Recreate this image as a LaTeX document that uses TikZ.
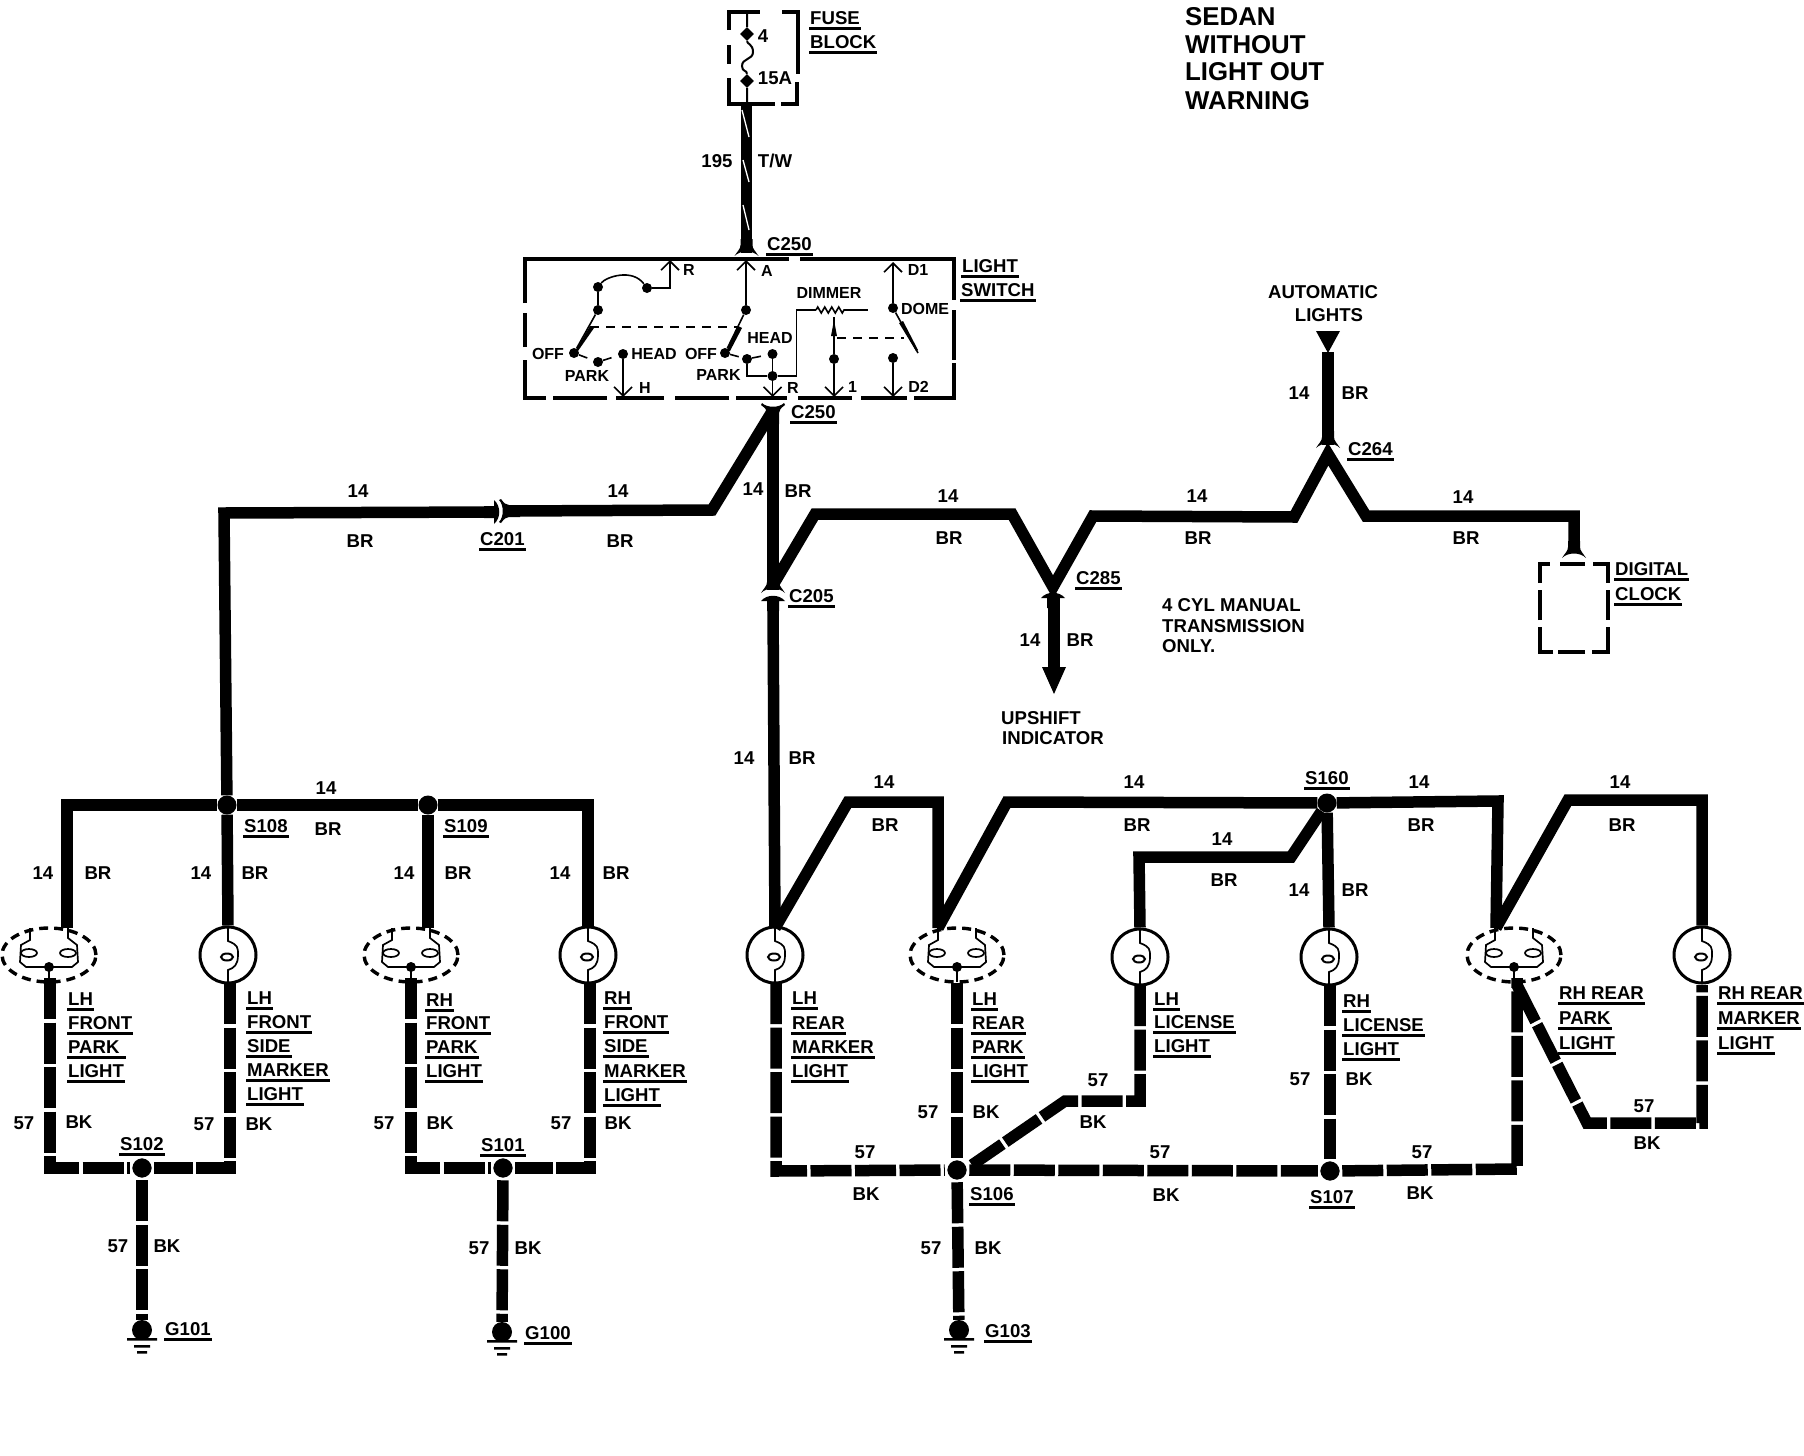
\documentclass[tikz,border=0pt]{standalone}
\usepackage{fontspec}
\setmainfont{Liberation Sans}[BoldFont={Liberation Sans Bold}]
\usetikzlibrary{arrows.meta,shapes.geometric,decorations.pathmorphing}
\newcommand\ulb[1]{\setbox0=\hbox{#1}\rlap{\hspace{-1pt}\rule[-5pt]{\dimexpr\wd0+2pt}{2.4pt}}\box0}
\newcommand\TT[4]{\node[lab] (#1) at (#2,#3) {#4};}
\newcommand\TU[4]{\node[lab,anchor=west] (#1) at (#2,#3) {\ulb{#4}};}
\newcommand\TL[4]{\node[lab,anchor=west] (#1) at (#2,#3) {#4};}
\newcommand\TS[4]{\node[sw] (#1) at (#2,#3) {#4};}
\tikzset{
 lab/.style={inner sep=0pt,yshift=-1pt,font=\fontsize{18.6}{18.6}\selectfont\bfseries,text height=13pt,text depth=0pt},
 sw/.style={inner sep=0pt,font=\fontsize{16}{16}\selectfont\bfseries,text height=11pt,text depth=0pt},
 head/.style={inner sep=0pt,anchor=west,font=\fontsize{25.8}{25.8}\selectfont\bfseries,text height=18pt,text depth=0pt},
 wire/.style={line width=11.5pt,line join=miter},
 gwire/.style={line width=11.5pt,line join=miter,dash pattern=on 41pt off 3.5pt},
 jun/.style={circle,fill=black,inner sep=0pt,minimum size=19pt},
 gjun/.style={circle,fill=black,draw=white,line width=2.5pt,inner sep=0pt,minimum size=22pt},
 gdot/.style={circle,fill=black,inner sep=0pt,minimum size=20pt},
 swdot/.style={circle,fill=black,inner sep=0pt,minimum size=10pt},
 bulb/.style={circle,draw,line width=3pt,inner sep=0pt,minimum size=56pt},
 parklamp/.style={ellipse,draw,line width=3.4pt,dash pattern=on 9pt off 6pt,inner sep=0pt,minimum width=94pt,minimum height=54pt},
 box/.style={line width=4pt},
 thin/.style={line width=1.6pt},
 swa/.style={line width=1.6pt,-{Straight Barb[length=9pt,width=18pt,line width=1.6pt]}},
 thickarrow/.style={line width=3.5pt},
 dsh/.style={line width=1.6pt,dash pattern=on 9pt off 7pt},
 bulbin/.pic={
  \draw[line width=1.7pt] (0,-27) -- (0,-14) .. controls (10,-10) and (10,-8) .. (10,0) .. controls (10,10) and (6,13) .. (0,15) -- (0,27);
  \draw[line width=2pt,fill=white] (-1,2) ellipse (6pt and 3.5pt);
 },
 parkin/.pic={
  \draw[line width=1.7pt] (19,-27) -- (19,-17) -- (28,-10) -- (29,7) -- (23,12) -- (-23,12) -- (-29,7) -- (-28,-10) -- (-19,-15) -- (-19,-27);
  \draw[line width=1.7pt] (-20,-2) ellipse (8pt and 4pt) (19,-2) ellipse (8pt and 4pt);
  \fill (0,12) circle (5pt);
  \draw[line width=1.7pt] (0,12) -- (0,27);
 },
 conD/.pic={\fill (-6,-14) -- (-6,-8) .. controls (-6,-4) and (-9,-2) .. (-12,3) .. controls (-6,-3) and (6,-3) .. (12,3) .. controls (9,-2) and (6,-4) .. (6,-8) -- (6,-14) -- cycle;},
 conU/.pic={\fill (-12,4) .. controls (-6,-3) and (6,-3) .. (12,4) -- (6,4) -- (6,14) -- (-6,14) -- (-6,4) -- cycle;},
 conY/.pic={\fill (-11,-7) .. controls (-6,-2) and (6,-2) .. (11,-7) -- (12,-5) .. controls (8,-2) and (6,0) .. (6,3) -- (6,14) -- (-6,14) -- (-6,3) .. controls (-6,0) and (-8,-2) .. (-12,-5) -- cycle;},
 gnd/.pic={\fill (-15,8) rectangle (15,10.5) (-8,15) rectangle (8,17.5) (-5,21) rectangle (5,23.5);},
}
\begin{document}
\begin{tikzpicture}[x=1pt,y=-1pt,line cap=butt]
\useasboundingbox (0,0) rectangle (1804,1456);
\fill[white] (0,0) rectangle (1804,1456);

% ---------- heading
\node[head] (h1) at (1185,16) {SEDAN};
\node[head] (h2) at (1185,44) {WITHOUT};
\node[head] (h3) at (1185,71) {LIGHT OUT};
\node[head] (h4) at (1185,100) {WARNING};

% ---------- fuse block
\draw[box] (729,30) -- (729,12) -- (760,12) (782,12) -- (798,12) -- (798,74) (729,45) -- (729,64) (729,78) -- (729,104) -- (775,104) (781,104) -- (797,104) -- (797,82);
\node[diamond,fill=black,inner sep=0pt,minimum size=14pt] (f4) at (747,34) {};
\node[diamond,fill=black,inner sep=0pt,minimum size=14pt] (f15) at (747,81) {};
\draw[line width=2pt] (747,14) -- (f4) (f4) .. controls (747,44) and (753,44) .. (753,52) .. controls (753,60) and (742,58) .. (742,66) .. controls (742,72) and (747,70) .. (f15) (f15) -- (747,104);
\TT{t4}{763}{35}{4}
\TT{t15}{775}{77}{15A}
\TU{tfuse}{810}{17}{FUSE}
\TU{tblock}{810}{41}{BLOCK}
\coordinate (ftop) at (746.5,104);
\coordinate (c250a) at (746.5,253);
\draw[wire] (ftop) -- (c250a);
\pic at (c250a) {conD};
\draw[white,line width=1.3pt] (742,110) -- (749,137) (743,160) -- (749,182) (743,205) -- (749,230);
\TT{t195}{717}{160}{195}
\TT{ttw}{775}{160}{T/W}

% ---------- light switch box
\draw[box] (525,303) -- (525,259) -- (789,259) (800,259) -- (954,259) -- (954,300) (954,310) -- (954,360) (954,363) -- (954,398) -- (914,398) (907,398) -- (861,398) (852,398) -- (798,398) (787,398) -- (736,398) (729,398) -- (675,398) (664,398) -- (616,398) (607,398) -- (553,398) (546,398) -- (525,398) -- (525,360) (525,347) -- (525,313);
\TU{tc250a}{767}{243}{C250}
\TU{tc250b}{791}{411}{C250}
\TU{tlight}{962}{265}{LIGHT}
\TU{tswitch}{961}{289}{SWITCH}
% left ganged switch
\node[swdot] (a1) at (598,287) {};
\node[swdot] (a2) at (598,310) {};
\node[swdot] (a3) at (574,353) {};
\node[swdot] (a4) at (598,362) {};
\node[swdot] (a5) at (623,354) {};
\node[swdot] (a6) at (647,288) {};
\coordinate (a7) at (670,288);
\coordinate (a8) at (670,260);
\coordinate (a9) at (623,397);
\coordinate (a10) at (590,327);
\coordinate (a11) at (739,327);
\draw[thin] (a1) .. controls (606,277) and (632,268) .. (a6);
\draw[thin] (a1) -- (a2);
\draw[thin] (a2) -- (a3);
\fill (590,326) -- (594,328) -- (578,351) -- (576,350) -- cycle;
\draw[swa] (a6) -- (a7) -- (a8);
\draw[dsh] (a3) -- (a4);
\draw[dsh] (a4) -- (a5);
\draw[swa] (a5) -- (a9);
\draw[dsh] (a10) -- (a11);
\TS{tr1}{689}{270}{R}
\TS{toff1}{548}{354}{OFF}
\TS{tpark1}{587}{376}{PARK}
\TS{thead1}{654}{354}{HEAD}
\TS{th}{645}{388}{H}
% middle switch
\node[swdot] (b1) at (746,310) {};
\node[swdot] (b2) at (725,353) {};
\node[swdot] (b3) at (747,359) {};
\node[swdot] (b4) at (772.5,354) {};
\node[swdot] (b5) at (772.5,376) {};
\coordinate (b6) at (746,260);
\coordinate (b7) at (772.5,397);
\coordinate (b8) at (747,376);
\coordinate (b9) at (796.5,376);
\coordinate (b10) at (796.5,310);
\coordinate (b11) at (816,310);
\coordinate (b12) at (845,310);
\coordinate (b13) at (868,310);
\draw[swa] (b1) -- (b6);
\draw[thin] (b1) -- (b2);
\fill (738,326) -- (742,328) -- (730,351) -- (727,350) -- cycle;
\draw[dsh] (b2) -- (b3);
\draw[dsh] (b3) -- (b4);
\draw[swa] (b4) -- (b7);
\draw[thin] (b3) -- (b8) -- (b5) -- (b9) -- (b10) -- (b11);
\draw[thin,decorate,decoration={zigzag,segment length=7pt,amplitude=3pt}] (b11) -- (b12);
\draw[thin] (b12) -- (b13);
\TS{ta}{767}{271}{A}
\TS{thead2}{770}{338}{HEAD}
\TS{toff2}{701}{354}{OFF}
\TS{tpark2}{718.5}{375}{PARK}
\TS{tr2}{793}{388}{R}
\TS{tdim}{829}{293}{DIMMER}
% dimmer wiper
\node[swdot] (d1) at (834,359) {};
\coordinate (d2) at (834,397);
\coordinate (d3) at (834,317);
\draw[swa] (d1) -- (d2);
\draw[thin] (d1) -- (d3);
\fill (834,320) -- (837,336) -- (831,336) -- cycle;
\draw[dsh] (837,338) -- (904,338);
\TS{tone}{852.5}{387}{1}
% dome switch
\node[swdot] (e1) at (893,308) {};
\node[swdot] (e2) at (893,358) {};
\coordinate (e3) at (893,262);
\coordinate (e4) at (893,397);
\coordinate (e5) at (918,353);
\draw[swa] (e1) -- (e3);
\draw[thin] (e1) -- (e5);
\fill (899,323) -- (903,321) -- (918,350) -- (916,351) -- cycle;
\draw[swa] (e2) -- (e4);
\TS{td1}{918}{270}{D1}
\TS{tdome}{925}{309}{DOME}
\TS{td2}{918.5}{387}{D2}

% ---------- trunk
\coordinate (c250b) at (773,410);
\coordinate (c205) at (773,590);
\coordinate (c205l) at (773,606);
\coordinate (k1) at (712,510);
\coordinate (c201r) at (510,511);
\coordinate (c201l) at (495,512);
\coordinate (k2) at (224,513);
\node[jun] (s108) at (227,805) {};
\node[jun] (s109) at (428,805) {};
\draw[wire] (c250b) -- (c205);
\pic at (c250b) {conY};
\draw[wire] (c250b) -- (k1) -- (c201r);
\draw[wire] (c201l) -- (k2) -- (s108);
\pic[rotate=-90] at (498,512) {conU};
\pic[rotate=90] at (506,511) {conY};
\pic at (c205) {conD};
\pic at (773,597) {conU};
\TU{tc205}{789}{595}{C205}
\TU{tc201}{480}{538}{C201}
\TT{w1}{358}{490}{14}
\TT{w2}{360}{540}{BR}
\TT{w3}{618}{490}{14}
\TT{w4}{620}{540}{BR}
\TT{w5}{753}{488}{14}
\TT{w6}{798}{490}{BR}

% upper right run
\coordinate (r0) at (773,585);
\coordinate (r1) at (815,514);
\coordinate (r2) at (1012,514);
\coordinate (c285) at (1053,587);
\coordinate (r3) at (1093,516);
\coordinate (r4) at (1294,517);
\coordinate (c264) at (1328,454);
\coordinate (r5) at (1366,516);
\coordinate (r6) at (1574,516);
\coordinate (r7) at (1574,545);
\coordinate (c285l) at (1054,596);
\coordinate (ush) at (1054,668);
\draw[wire] (r0) -- (r1) -- (r2) -- (c285) -- (r3) -- (r4) -- (c264) -- (r5) -- (r6) -- (r7);
\pic at (1574,555) {conD};
\pic at (1053,594) {conU};
\draw[wire] (c285l) -- (ush);
\fill (1042,667) -- (1066,667) -- (1054,694) -- cycle;
\TU{tc285}{1076}{577}{C285}
\TT{w7}{948}{495}{14}
\TT{w8}{949}{537}{BR}
\TT{w9}{1197}{495}{14}
\TT{w10}{1198}{537}{BR}
\TT{w11}{1463}{496}{14}
\TT{w12}{1466}{537}{BR}
\TT{w13}{1030}{639}{14}
\TT{w14}{1080}{639}{BR}
\TT{tup}{1041}{717}{UPSHIFT}
\TT{tind}{1053}{737}{INDICATOR}
\TL{tcyl}{1162}{604}{4 CYL MANUAL}
\TL{ttr}{1162}{625}{TRANSMISSION}
\TL{tonly}{1162}{645}{ONLY.}

% automatic lights
\coordinate (au) at (1328,352);
\coordinate (aub) at (1328,445);
\draw[wire] (au) -- (aub);
\pic at (aub) {conD};
\fill (1316,331) -- (1340,331) -- (1328,353) -- cycle;
\TT{taut}{1323}{291}{AUTOMATIC}
\TT{tlig}{1329}{314}{LIGHTS}
\TT{w15}{1299}{392}{14}
\TT{w16}{1355}{392}{BR}
\TU{tc264}{1348}{448}{C264}

% digital clock
\draw[box] (1540,583) -- (1540,564) -- (1550,564) (1560,564) -- (1585,564) (1593,564) -- (1608,564) -- (1608,583) (1608,590) -- (1608,620) (1608,627) -- (1608,652) -- (1592,652) (1585,652) -- (1558,652) (1553,652) -- (1540,652) -- (1540,627) (1540,620) -- (1540,590);
\TU{tdig}{1615}{568}{DIGITAL}
\TU{tclk}{1615}{593}{CLOCK}

% ---------- left group feed
\coordinate (l1) at (67,805);
\coordinate (l2) at (67,928);
\coordinate (l3) at (428,928);
\coordinate (l4) at (588,805);
\coordinate (l5) at (588,928);
\node[parklamp] (p1) at (49,955) {};
\node[bulb] (q1) at (228,955) {};
\node[parklamp] (p2) at (411,955) {};
\node[bulb] (q2) at (588,955) {};
\pic at (p1) {parkin};
\pic at (q1) {bulbin};
\pic at (p2) {parkin};
\pic at (q2) {bulbin};
\draw[wire] (l2) -- (l1) -- (s108);
\draw[wire] (s108) -- (s109);
\draw[wire] (s109) -- (l4) -- (q2.north);
\draw[wire] (s108) -- (q1.north);
\draw[wire] (s109) -- (l3);
\TT{w20}{326}{787}{14}
\TT{w21}{328}{828}{BR}
\TU{ts108}{244}{825}{S108}
\TU{ts109}{444}{825}{S109}
\TT{w22}{43}{872}{14}
\TT{w23}{98}{872}{BR}
\TT{w24}{201}{872}{14}
\TT{w25}{255}{872}{BR}
\TT{w26}{404}{872}{14}
\TT{w27}{458}{872}{BR}
\TT{w28}{560}{872}{14}
\TT{w29}{616}{872}{BR}
\TU{n1}{68}{998}{LH}
\TU{n2}{68}{1022}{FRONT}
\TU{n3}{68}{1046}{PARK\ }
\TU{n4}{68}{1070}{LIGHT}
\TU{n5}{247}{997}{LH}
\TU{n6}{247}{1021}{FRONT}
\TU{n7}{247}{1045}{SIDE}
\TU{n8}{247}{1069}{MARKER}
\TU{n9}{247}{1093}{LIGHT}
\TU{n10}{426}{999}{RH}
\TU{n11}{426}{1022}{FRONT}
\TU{n12}{426}{1046}{PARK}
\TU{n13}{426}{1070}{LIGHT}
\TU{n14}{604}{997}{RH}
\TU{n15}{604}{1021}{FRONT}
\TU{n16}{604}{1045}{SIDE}
\TU{n17}{604}{1070}{MARKER}
\TU{n18}{604}{1094}{LIGHT}

% left group ground
\node[gjun] (s102) at (142,1168) {};
\node[gjun] (s101) at (503,1168) {};
\node[gdot] (g101) at (142,1330) {};
\node[gdot] (g100) at (502,1332) {};
\pic at (g101) {gnd};
\pic at (g100) {gnd};
\coordinate (x1) at (50,978);
\coordinate (x2) at (50,1168);
\coordinate (x3) at (230,983);
\coordinate (x4) at (230,1168);
\coordinate (x5) at (411,978);
\coordinate (x6) at (411,1168);
\coordinate (x7) at (590,983);
\coordinate (x8) at (590,1168);
\draw[gwire] (x1) -- (x2) -- (s102);
\draw[gwire] (x3) -- (x4) -- (s102);
\draw[gwire] (x5) -- (x6) -- (s101);
\draw[gwire] (x7) -- (x8) -- (s101);
\draw[gwire] (s102) -- (g101);
\draw[gwire] (s101) -- (g100);
\TT{b1t}{24}{1122}{57}
\TT{b2t}{79}{1121}{BK}
\TT{b3t}{204}{1123}{57}
\TT{b4t}{259}{1123}{BK}
\TT{b5t}{384}{1122}{57}
\TT{b6t}{440}{1122}{BK}
\TT{b7t}{561}{1122}{57}
\TT{b8t}{618}{1122}{BK}
\TT{b9t}{118}{1245}{57}
\TT{b10t}{167}{1245}{BK}
\TT{b11t}{479}{1247}{57}
\TT{b12t}{528}{1247}{BK}
\TU{ts102}{120}{1143}{S102}
\TU{ts101}{481}{1144}{S101}
\TU{tg101}{165}{1328}{G101}
\TU{tg100}{525}{1332}{G100}

% ---------- right group feed
\coordinate (m0) at (775,928);
\coordinate (m1) at (848,802);
\coordinate (m2) at (938,802);
\coordinate (m3) at (938,928);
\coordinate (m4) at (1007,802);
\node[jun] (s160) at (1327,803) {};
\coordinate (m5) at (1498,801);
\coordinate (m6) at (1496,928);
\coordinate (m7) at (1568,800);
\coordinate (m8) at (1702,800);
\coordinate (m9) at (1291,857);
\coordinate (m10) at (1139,857);
\node[bulb] (q3) at (775,955) {};
\node[parklamp] (p3) at (957,955) {};
\node[bulb] (q4) at (1140,957) {};
\node[bulb] (q5) at (1329,957) {};
\node[parklamp] (p4) at (1514,955) {};
\node[bulb] (q6) at (1702,955) {};
\pic at (q3) {bulbin};
\pic at (p3) {parkin};
\pic at (q4) {bulbin};
\pic at (q5) {bulbin};
\pic at (p4) {parkin};
\pic at (q6) {bulbin};
\draw[wire] (c205l) -- (m0);
\draw[wire] (m0) -- (m1) -- (m2) -- (m3);
\draw[wire] (m3) -- (m4) -- (s160);
\draw[wire] (s160) -- (m5) -- (m6);
\draw[wire] (m6) -- (m7) -- (m8) -- (q6.north);
\draw[wire] (s160) -- (m9) -- (m10) -- (q4.north);
\draw[wire] (s160) -- (q5.north);
\TT{w30}{744}{757}{14}
\TT{w31}{802}{757}{BR}
\TT{w32}{884}{781}{14}
\TT{w33}{885}{824}{BR}
\TT{w34}{1134}{781}{14}
\TT{w35}{1137}{824}{BR}
\TU{ts160}{1305}{777}{S160}
\TT{w36}{1419}{781}{14}
\TT{w37}{1421}{824}{BR}
\TT{w38}{1620}{781}{14}
\TT{w39}{1622}{824}{BR}
\TT{w40}{1222}{838}{14}
\TT{w41}{1224}{879}{BR}
\TT{w42}{1299}{889}{14}
\TT{w43}{1355}{889}{BR}
\TU{n20}{792}{997}{LH}
\TU{n21}{792}{1022}{REAR}
\TU{n22}{792}{1046}{MARKER}
\TU{n23}{792}{1070}{LIGHT}
\TU{n24}{972}{998}{LH}
\TU{n25}{972}{1022}{REAR}
\TU{n26}{972}{1046}{PARK}
\TU{n27}{972}{1070}{LIGHT}
\TU{n28}{1154}{998}{LH}
\TU{n29}{1154}{1021}{LICENSE}
\TU{n30}{1154}{1045}{LIGHT}
\TU{n31}{1343}{1000}{RH}
\TU{n32}{1343}{1024}{LICENSE}
\TU{n33}{1343}{1048}{LIGHT}
\TU{n34}{1559}{992}{RH REAR}
\TU{n35}{1559}{1017}{PARK}
\TU{n36}{1559}{1042}{LIGHT}
\TU{n37}{1718}{992}{RH REAR}
\TU{n38}{1718}{1017}{MARKER}
\TU{n39}{1718}{1042}{LIGHT}

% right group ground
\node[gjun] (s106) at (957,1170) {};
\node[gjun] (s107) at (1330,1171) {};
\node[gdot] (g103) at (959,1330) {};
\pic at (g103) {gnd};
\coordinate (y1) at (776,983);
\coordinate (y2) at (776,1171);
\coordinate (y3) at (957,983);
\coordinate (y4) at (1140,985);
\coordinate (y5) at (1140,1101);
\coordinate (y6) at (1065,1101);
\coordinate (y7) at (972,1165);
\coordinate (y8) at (1330,985);
\coordinate (y9) at (1517,978);
\coordinate (y10) at (1517,1169);
\coordinate (y11) at (1517,985);
\coordinate (y12) at (1587,1123);
\coordinate (y13) at (1702,1123);
\coordinate (y14) at (1702,985);
\draw[gwire] (y1) -- (y2) -- (s106);
\draw[gwire] (y3) -- (s106);
\draw[gwire] (y4) -- (y5) -- (y6) -- (y7);
\draw[gwire] (s106) -- (s107);
\draw[gwire] (y8) -- (s107);
\draw[gwire] (s107) -- (y10) -- (y9);
\draw[gwire] (y11) -- (y12) -- (y13) -- (y14);
\draw[gwire] (s106) -- (g103);
\TT{c1}{865}{1151}{57}
\TT{c2}{866}{1193}{BK}
\TT{c3}{928}{1111}{57}
\TT{c4}{986}{1111}{BK}
\TT{c5}{1098}{1079}{57}
\TT{c6}{1093}{1121}{BK}
\TT{c7}{1160}{1151}{57}
\TT{c8}{1166}{1194}{BK}
\TT{c9}{1300}{1078}{57}
\TT{c10}{1359}{1078}{BK}
\TT{c11}{1422}{1151}{57}
\TT{c12}{1420}{1192}{BK}
\TT{c13}{1644}{1105}{57}
\TT{c14}{1647}{1142}{BK}
\TT{c15}{931}{1247}{57}
\TT{c16}{988}{1247}{BK}
\TU{ts106}{970}{1193}{S106}
\TU{ts107}{1310}{1196}{S107}
\TU{tg103}{985}{1330}{G103}
\end{tikzpicture}
\end{document}
